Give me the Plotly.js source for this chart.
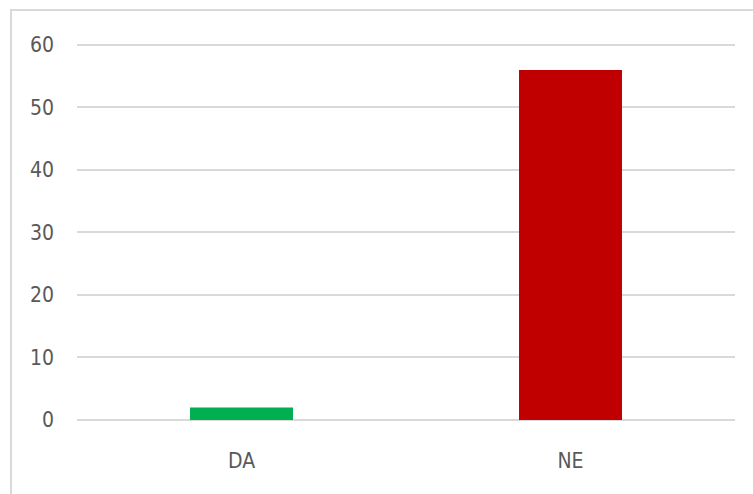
<!DOCTYPE html>
<html>
<head>
<meta charset="utf-8">
<script src="https://cdn.plot.ly/plotly-3.0.1.min.js"></script>
<style>
  html, body { margin: 0; padding: 0; background: #fff; overflow: hidden; }
  #frame { position: absolute; left: 10px; top: 9px; width: 800px; height: 520px;
           border-left: 2px solid #d9d9d9; border-top: 2px solid #d9d9d9; }
  #chart { position: absolute; left: 0; top: 0; width: 753px; height: 494px; }
</style>
</head>
<body>
<div id="frame"></div>
<div id="chart"></div>
<script>
const categories = ["DA", "NE"];
const values = [2, 56];
const barColors = ["#00B050", "#C00000"];
const yTicks = [0, 10, 20, 30, 40, 50, 60];

const fontFam = '"DejaVu Sans Condensed", "Liberation Sans Narrow", sans-serif';

Plotly.newPlot('chart', [{
  type: 'bar',
  x: categories,
  y: values,
  marker: { color: barColors },
  hoverinfo: 'none'
}], {
  width: 753, height: 494,
  margin: { l: 77, r: 18, t: 43, b: 74 },
  paper_bgcolor: 'rgba(0,0,0,0)',
  plot_bgcolor: 'rgba(0,0,0,0)',
  bargap: 0.687,
  showlegend: false,
  xaxis: {
    showgrid: false, showline: false, zeroline: false, ticks: '',
    ticklabelstandoff: 26,
    tickfont: { family: fontFam, size: 21, color: '#595959' }
  },
  yaxis: {
    range: [0, 60.3], tickvals: yTicks, ticktext: yTicks.map(String),
    showgrid: true, gridcolor: '#d9d9d9', gridwidth: 2,
    zeroline: true, zerolinecolor: '#d9d9d9', zerolinewidth: 2,
    showline: false, ticks: '',
    ticklabelstandoff: 22,
    tickfont: { family: fontFam, size: 21, color: '#595959' }
  }
}, { staticPlot: true });
</script>
</body>
</html>
